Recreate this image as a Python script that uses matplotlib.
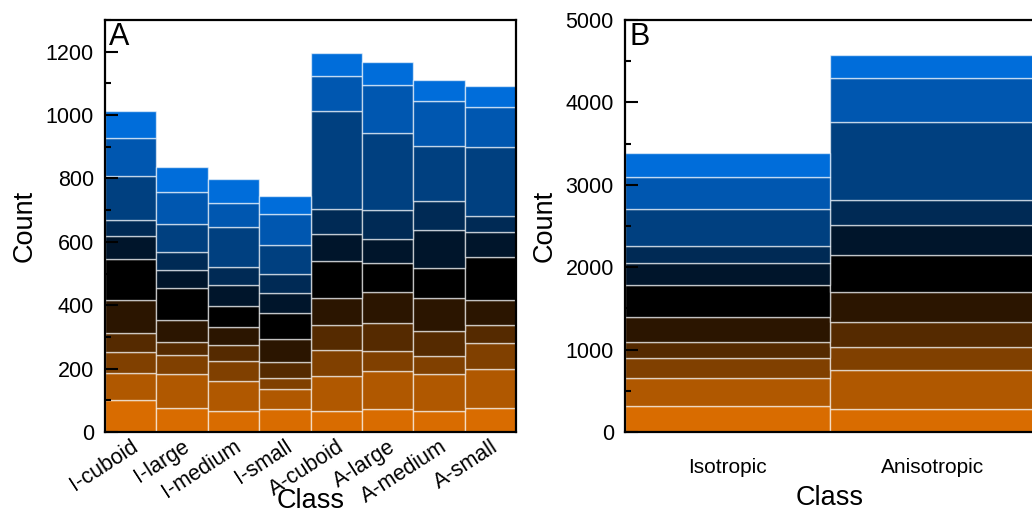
import matplotlib
matplotlib.use("Agg")
import matplotlib.pyplot as plt
import numpy as np
from matplotlib.ticker import MultipleLocator
import matplotlib.transforms as mtransforms

plt.rcParams['font.family'] = ['Liberation Sans', 'DejaVu Sans']

# Panel A data
classes_a = ["I-cuboid", "I-large", "I-medium", "I-small",
             "A-cuboid", "A-large", "A-medium", "A-small"]
# segments bottom -> top, per class
seg_a = [
    [100, 85, 66, 62, 103, 130, 73, 49, 140, 120, 85],
    [75, 107, 61, 40, 71, 99, 58, 58, 88, 99, 79],
    [67, 93, 63, 52, 57, 65, 68, 55, 128, 73, 76],
    [72, 63, 34, 53, 71, 81, 64, 59, 94, 97, 56],
    [67, 110, 82, 78, 86, 115, 88, 78, 310, 110, 73],
    [73, 118, 64, 90, 96, 92, 77, 91, 243, 151, 71],
    [67, 115, 59, 77, 105, 95, 118, 93, 173, 141, 67],
    [75, 124, 81, 57, 78, 137, 79, 51, 218, 127, 64],
]

# Panel B data
classes_b = ["Isotropic", "Anisotropic"]
seg_b = [
    [312, 348, 236, 202, 296, 385, 267, 211, 446, 394, 291],
    [276, 478, 279, 308, 361, 446, 365, 304, 948, 531, 283],
]

colors = ["#D96C00", "#B05800", "#804000", "#552A00", "#2B1500", "#000000",
          "#00152B", "#002A55", "#004080", "#0057B0", "#006DDA"]

fig = plt.figure(figsize=(10.32, 5.14), dpi=100)
W, H = 1032, 514

def add_ax(l, t, r, b):
    return fig.add_axes([l / W, 1 - b / H, (r - l) / W, (b - t) / H])

axA = add_ax(105, 20, 516, 432)
axB = add_ax(625, 20, 1035, 432)

TICK = 15.5

def draw(ax, cats, segs):
    x = np.arange(len(cats))
    segs = np.array(segs)
    bottom = np.zeros(len(cats))
    for k in range(segs.shape[1]):
        ax.bar(x, segs[:, k], width=1.0, bottom=bottom, color=colors[k],
               edgecolor=(1, 1, 1, 0.6), linewidth=1.0)
        bottom += segs[:, k]
    ax.set_xlim(-0.5, len(cats) - 0.5)
    ax.set_xticks(x)
    for s in ax.spines.values():
        s.set_linewidth(1.6)
    ax.tick_params(axis='y', which='major', direction='in', length=9, width=1.5,
                   labelsize=TICK, pad=8)
    ax.tick_params(axis='y', which='minor', direction='in', length=4.5, width=1.5)
    ax.tick_params(axis='x', length=0)
    ax.set_ylabel("Count", fontsize=19.5)
    ax.set_xlabel("Class", fontsize=19.5)

draw(axA, classes_a, seg_a)
axA.set_ylim(0, 1300)
axA.yaxis.set_major_locator(MultipleLocator(200))
axA.yaxis.set_minor_locator(MultipleLocator(100))
axA.set_xticklabels(classes_a, rotation=33, ha='right', rotation_mode='anchor',
                    fontsize=15.5)
offset = mtransforms.ScaledTranslation(7 / 72, 0, fig.dpi_scale_trans)
for lab in axA.get_xticklabels():
    lab.set_transform(lab.get_transform() + offset)
axA.tick_params(axis='x', pad=3)
axA.xaxis.set_label_coords(0.5, -0.137)
axA.yaxis.set_label_coords(-0.165, 0.5)
axA.text(0.01, 0.995, "A", transform=axA.transAxes, ha='left', va='top', fontsize=22)

draw(axB, classes_b, seg_b)
axB.set_ylim(0, 5000)
axB.yaxis.set_major_locator(MultipleLocator(1000))
axB.yaxis.set_minor_locator(MultipleLocator(500))
axB.set_xticklabels(classes_b, fontsize=15)
axB.tick_params(axis='x', pad=19)
axB.xaxis.set_label_coords(0.5, -0.129)
axB.yaxis.set_label_coords(-0.164, 0.5)
axB.text(0.01, 0.995, "B", transform=axB.transAxes, ha='left', va='top', fontsize=22)

fig.savefig("out.png", dpi=100)
